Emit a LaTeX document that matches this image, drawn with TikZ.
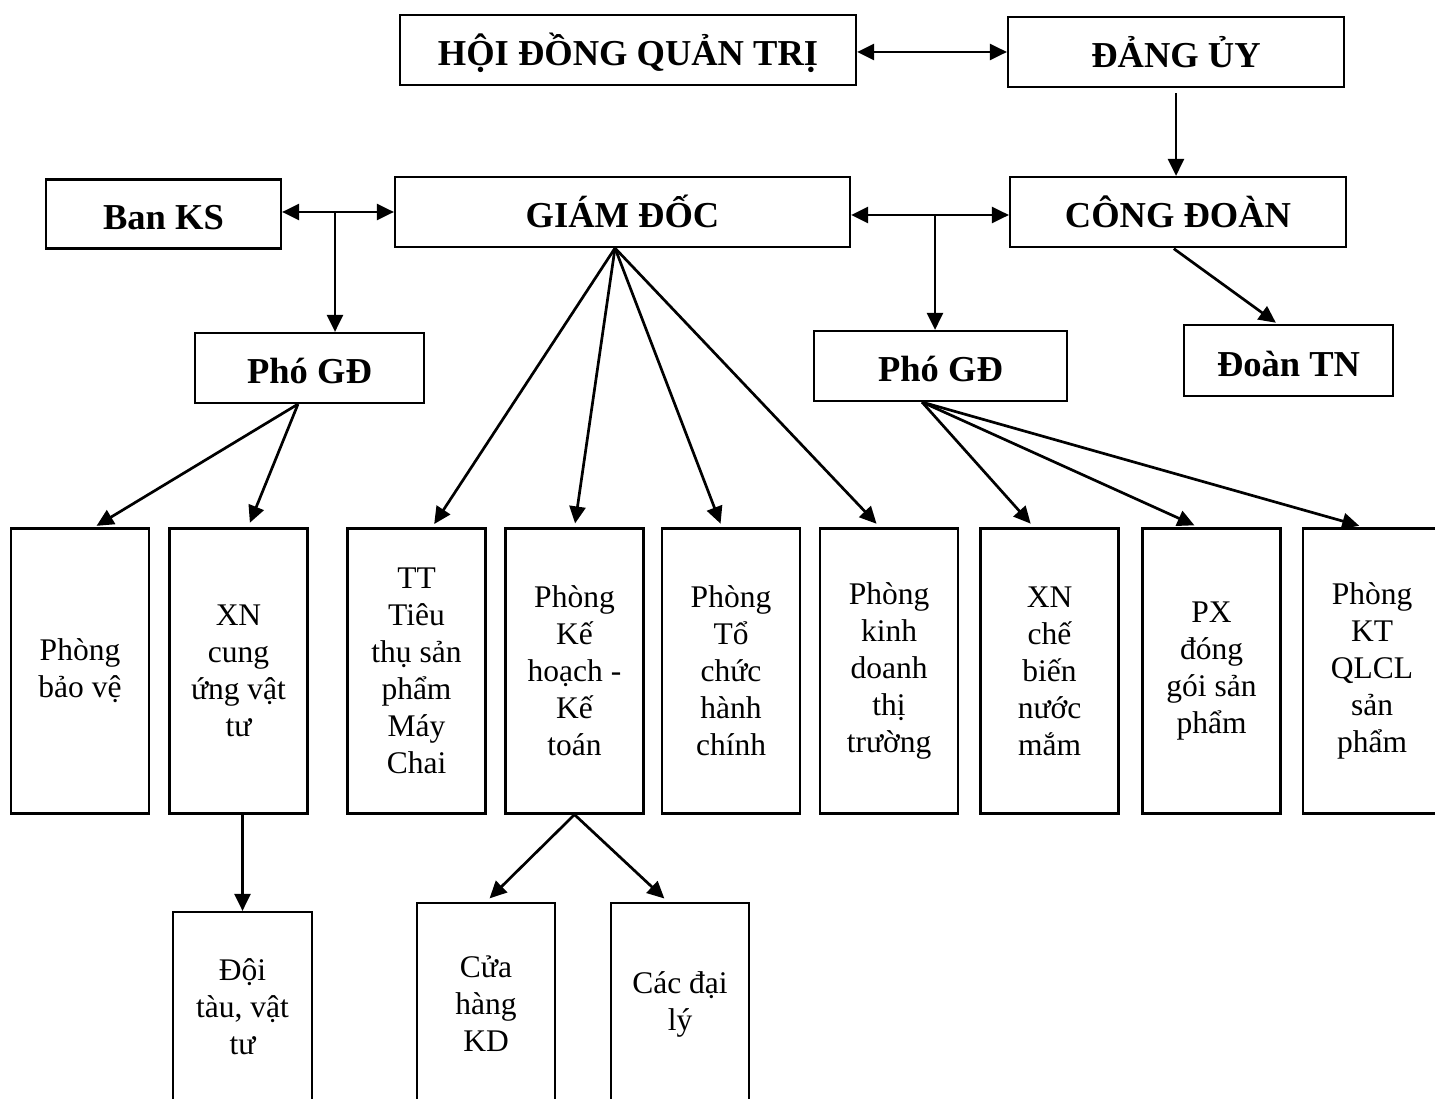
\documentclass[tikz,border=0pt]{standalone}
\usepackage{fontspec}
\setmainfont{Liberation Serif}
\usetikzlibrary{arrows.meta,calc}

\begin{document}
\begin{tikzpicture}[x=1pt,y=-1pt,
  box/.style={draw, line width=2.2pt, inner sep=0pt, align=center},
  head/.style={box, text height=31pt, text depth=0pt,
    font=\fontsize{36.5}{44}\selectfont\bfseries},
  unit/.style={box, minimum width=138pt, minimum height=285pt,
    font=\fontsize{31.5}{37}\selectfont},
  sub/.style={box, minimum width=138pt, font=\fontsize{31.5}{37}\selectfont},
  tip/.style={-{Triangle[length=17pt,width=16pt]}},
  link/.style={line width=2.7pt, tip},
  both/.style={line width=2.7pt, {Triangle[length=17pt,width=16pt]}-{Triangle[length=17pt,width=16pt]}}]

\fill[white] (0,0) rectangle (1435,1099);
\useasboundingbox (0,0) rectangle (1435,1099);
\clip (0,0) rectangle (1435,1099);

% top level
\node[head, minimum width=456pt, minimum height=70pt] (hd) at (628,50) {HỘI ĐỒNG QUẢN TRỊ};
\node[head, minimum width=336pt, minimum height=70pt] (du) at (1176,52) {ĐẢNG ỦY};

% second level
\node[head, minimum width=235pt, minimum height=69pt] (bks) at (163.5,214) {Ban KS};
\node[head, minimum width=455pt, minimum height=70pt] (gd) at (622.5,212) {GIÁM ĐỐC};
\node[head, minimum width=336pt, minimum height=70pt] (cd) at (1178,212) {CÔNG ĐOÀN};

% deputies and youth union
\node[head, minimum width=229pt, minimum height=70pt] (pl) at (309.5,368) {Phó GĐ};
\node[head, minimum width=253pt, minimum height=70pt] (pr) at (940.5,366) {Phó GĐ};
\node[head, minimum width=209pt, minimum height=71pt] (dtn) at (1288.5,360.5) {Đoàn TN};

% departments
\node[unit] (u1) at (80,671)     {Phòng\\bảo vệ};
\node[unit] (u2) at (238.5,671)  {XN\\cung\\ứng vật\\tư};
\node[unit] (u3) at (416.5,671)  {TT\\Tiêu\\thụ sản\\phẩm\\Máy\\Chai};
\node[unit] (u4) at (574.5,671)  {Phòng\\Kế\\hoạch -\\Kế\\toán};
\node[unit] (u5) at (731,671)    {Phòng\\Tổ\\chức\\hành\\chính};
\node[unit] (u6) at (889,671)    {Phòng\\kinh\\doanh\\thị\\trường};
\node[unit] (u7) at (1049.5,671) {XN\\chế\\biến\\nước\\mắm};
\node[unit] (u8) at (1211.5,671) {PX\\đóng\\gói sản\\phẩm};
\node[unit] (u9) at (1372,671)   {Phòng\\KT\\QLCL\\sản\\phẩm};

% lowest level
\node[sub, minimum width=139pt, minimum height=190pt] (dt) at (242.5,1007) {Đội\\tàu, vật\\tư};
\node[sub, minimum height=202pt] (ch) at (486,1004) {Cửa\\hàng\\KD};
\node[sub, minimum height=202pt] (dl) at (680,1004) {Các đại\\lý};

% junction points on the horizontal links
\coordinate (jt) at (930,52);
\coordinate (jl) at (335,212);
\coordinate (jr) at (935,215);

% connectors
\draw[both] (hd.east |- jt) -- (du.west |- jt);
\draw[link, shorten <=5pt] (du.south) -- (du.south |- cd.north);
\draw[both] (bks.east |- jl) -- (gd.west |- jl);
\draw[link] (jl) -- (jl |- pl.north);
\draw[both] (gd.east |- jr) -- (cd.west |- jr);
\draw[link] (jr) -- (jr |- pr.north);
\draw[link, shorten <=1pt, shorten >=2pt] ([xshift=-5pt]cd.south) -- ([xshift=-11pt]dtn.north);

\draw[link, shorten >=3pt] ([xshift=-11.5pt]pl.south) -- ([xshift=14pt]u1.north);
\draw[link, shorten >=5pt] ([xshift=-11.5pt]pl.south) -- ([xshift=9.5pt]u2.north);

\draw[link, shorten >=4pt] ([xshift=-7.5pt]gd.south) -- ([xshift=15.5pt]u3.north);
\draw[link, shorten >=4pt] ([xshift=-7.5pt]gd.south) -- (u4.north);
\draw[link, shorten >=4pt] ([xshift=-7.5pt]gd.south) -- ([xshift=-9pt]u5.north);
\draw[link, shorten >=5pt] ([xshift=-7.5pt]gd.south) -- ([xshift=-9pt]u6.north);

\draw[link, shorten >=5pt] ([xshift=-18.5pt]pr.south) -- ([xshift=-15.5pt]u7.north);
\draw[link, shorten >=5pt] ([xshift=-18.5pt]pr.south) -- ([xshift=-12.5pt]u8.north);
\draw[link, shorten >=6pt] ([xshift=-18.5pt]pr.south) -- ([xshift=-7pt]u9.north);

\draw[link] (dt.north |- u2.south) -- (dt.north);
\draw[link, shorten >=5pt] (u4.south) -- (ch.north);
\draw[link, shorten >=5pt] (u4.south) -- ([xshift=-12pt]dl.north);
\end{tikzpicture}
\end{document}
